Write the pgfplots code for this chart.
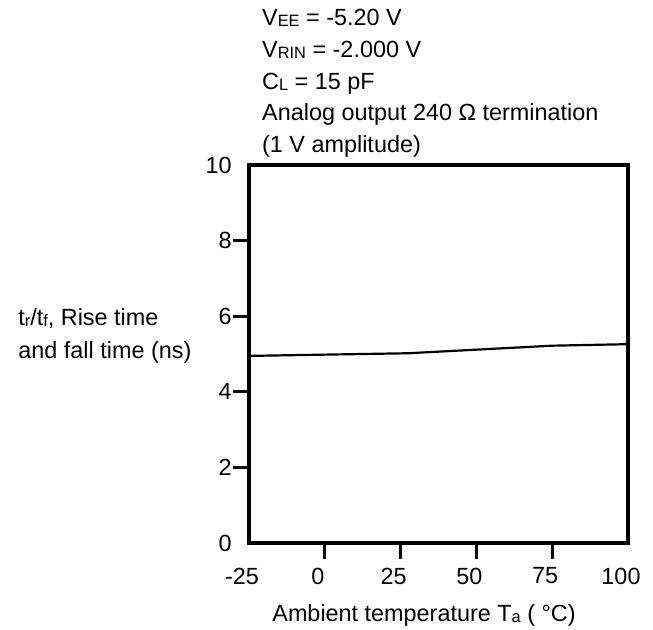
\documentclass[border=0pt]{standalone}
\usepackage{fontspec}
\setmainfont{Liberation Sans}
\usepackage{pgfplots}
\pgfplotsset{compat=1.18}
\newcommand{\sub}[1]{\raisebox{-0.6pt}{\fontsize{8.2}{8.2}\selectfont #1}}

\begin{document}
\fontsize{11.7}{14}\selectfont
\begin{tikzpicture}
\useasboundingbox (-124.5pt,-43pt) rectangle (202pt,271.5pt);
\begin{axis}[
  at={(0,0)}, anchor=south west,
  width=189.5pt, height=189pt, scale only axis,
  xmin=-25, xmax=100, ymin=0, ymax=10,
  axis line style={line width=2pt},
  xtick={-25,0,25,50,75,100},
  xticklabels={-25,0,25,50,75,100},
  ytick={0,2,4,6,8,10},
  yticklabels={0,2,4,6,8,10},
  major tick length=0pt,
  tick pos=left, tick align=outside,
  extra x ticks={0,25,50,75}, extra x tick labels={},
  extra y ticks={2,4,6,8}, extra y tick labels={},
  extra tick style={major tick length=8pt, tick style={line width=1.6pt, black}},
  xticklabel style={anchor=center, yshift=-16.5pt, xshift=-3.5pt, font=\fontsize{11.7}{14}\selectfont},
  yticklabel style={anchor=east, inner sep=0pt, xshift=-8.5pt, font=\fontsize{11.7}{14}\selectfont},
  clip=false,
]
% rise/fall time vs ambient temperature
\addplot[black, line width=1.1pt] coordinates {
  (-25,4.95) (27.4,5.02) (75,5.22) (100,5.26)
};
\end{axis}
% test conditions
\node[anchor=base west] at (2.5pt,259pt) {V\sub{EE} = -5.20 V};
\node[anchor=base west] at (2.5pt,243pt) {V\sub{RIN} = -2.000 V};
\node[anchor=base west] at (2.5pt,227pt) {C\sub{L} = 15 pF};
\node[anchor=base west] at (2.5pt,211.5pt) {Analog output 240 Ω termination};
\node[anchor=base west] at (2.5pt,195.5pt) {(1 V amplitude)};
% axis titles
\node[anchor=base west, inner sep=0pt] at (-115.5pt,109pt) {t\sub{r}/t\sub{f}, Rise time};
\node[anchor=base west, inner sep=0pt] at (-115.5pt,92.5pt) {and fall time (ns)};
\node[anchor=base west, inner sep=0pt] at (11.5pt,-39pt) {Ambient temperature T\sub{a} ( °C)};
\end{tikzpicture}
\end{document}
